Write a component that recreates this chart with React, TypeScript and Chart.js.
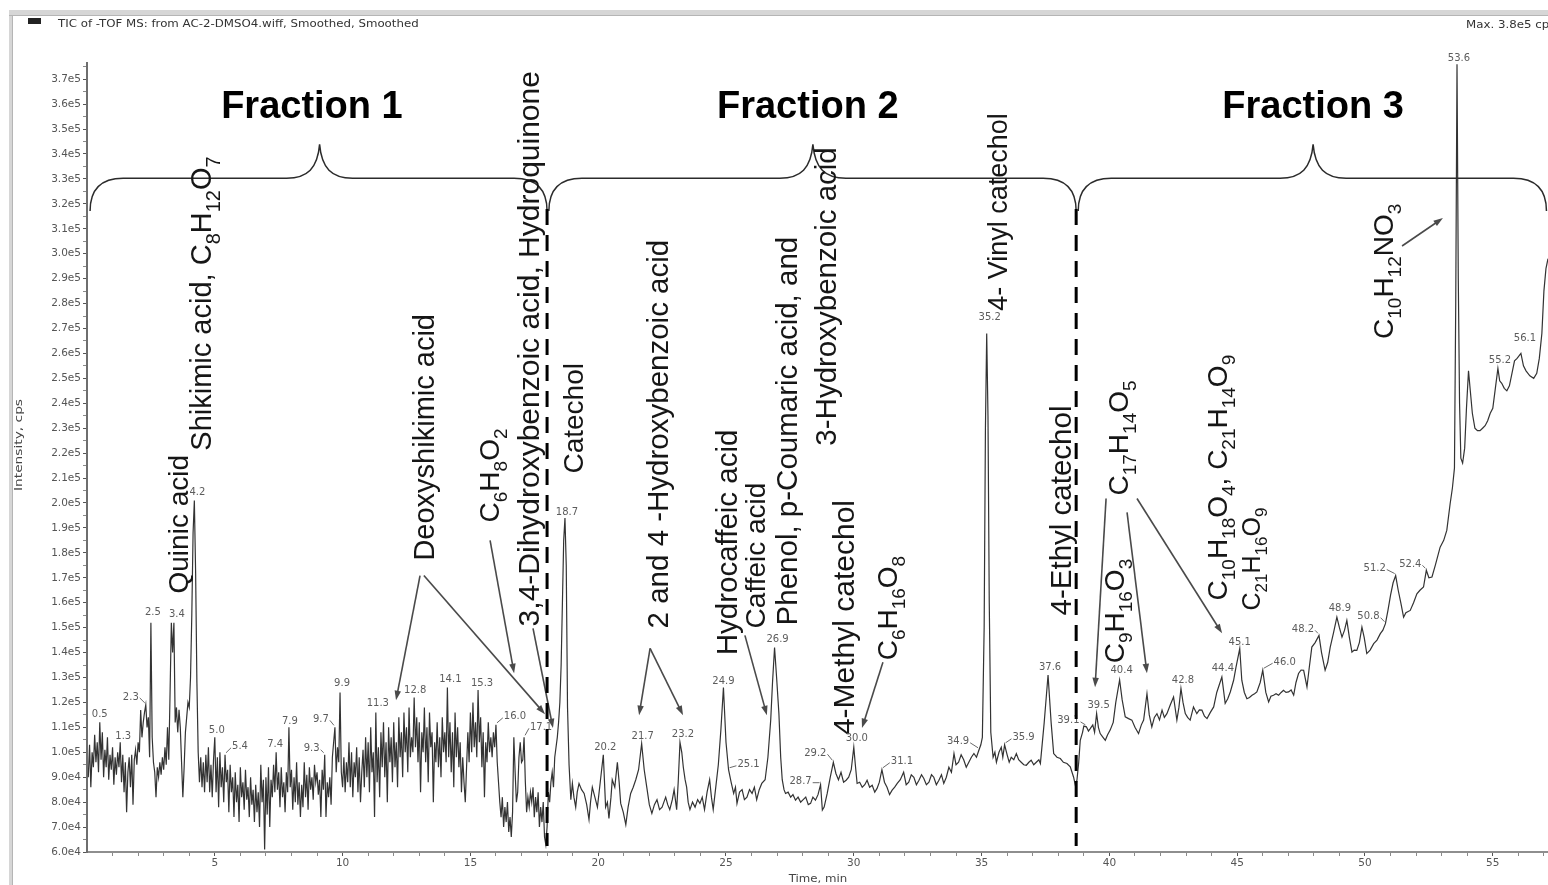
import React, { useEffect, useRef } from 'react';
import { Chart, registerables } from 'chart.js';

Chart.register(...registerables);

// ---------------------------------------------------------------------------
// TIC trace. Time in min, intensity in kcps.
// ---------------------------------------------------------------------------

// dense early part of the run, sampled every 0.05 min from 0.05 to 18.70 min
const EARLY_START_MIN = 0.05;
const EARLY_STEP_MIN = 0.05;
const earlyIntensity = [
  90, 103, 86, 100, 94, 107, 96, 104, 92, 112, 97, 108, 90, 101, 94, 106, 89, 99, 93, 102,
  87, 98, 91, 100, 94, 104, 88, 99, 84, 96, 76, 92, 98, 86, 99, 79, 97, 101, 95, 104,
  100, 117, 106, 112, 116, 119, 110, 114, 98, 152, 106, 96, 92, 82, 94, 90, 96, 91, 98, 93,
  102, 95, 110, 97, 124, 152, 140, 152, 112, 118, 108, 117, 110, 96, 82, 94, 108, 114, 120, 118,
  130, 155, 188, 201, 172, 128, 100, 88, 98, 86, 96, 84, 99, 88, 102, 84, 95, 82, 97, 106,
  84, 98, 78, 100, 86, 94, 80, 99, 88, 93, 76, 95, 84, 90, 74, 92, 80, 87, 72, 94,
  82, 88, 77, 93, 81, 86, 74, 90, 79, 85, 72, 87, 76, 84, 70, 95, 80, 89, 61, 90,
  75, 94, 70, 89, 82, 95, 84, 100, 85, 92, 78, 94, 82, 88, 76, 92, 84, 110, 86, 93,
  77, 90, 80, 96, 79, 88, 74, 87, 78, 96, 82, 91, 77, 94, 85, 90, 81, 95, 88, 92,
  83, 89, 74, 93, 85, 99, 74, 88, 82, 90, 79, 98, 104, 110, 92, 102, 96, 124, 92, 86,
  98, 84, 96, 88, 104, 86, 100, 82, 96, 90, 102, 84, 98, 80, 92, 101, 86, 106, 90, 104,
  84, 110, 92, 100, 74, 116, 88, 102, 82, 108, 94, 112, 90, 104, 80, 110, 96, 106, 88, 112,
  94, 104, 86, 114, 98, 108, 90, 116, 100, 110, 92, 118, 98, 106, 100, 122, 102, 114, 96, 112,
  84, 108, 100, 118, 96, 110, 88, 116, 102, 108, 80, 104, 96, 112, 94, 106, 90, 114, 100, 108,
  96, 126, 98, 112, 92, 108, 86, 116, 98, 110, 94, 104, 84, 98, 88, 80, 94, 108, 96, 116,
  100, 120, 102, 112, 98, 125, 104, 114, 94, 108, 82, 104, 96, 112, 100, 106, 98, 108, 102, 111,
  96, 88, 80, 74, 82, 70, 78, 72, 80, 68, 74, 66, 76, 106, 92, 80, 84, 98, 104, 96,
  97, 106, 88, 76, 82, 78, 84, 80, 86, 74, 82, 76, 84, 70, 78, 72, 80, 66, 63, 70,
  84, 80, 88, 92, 86, 98, 102, 106, 112, 120, 135, 160, 185, 194,
];

// middle part of the run [time, kcps]
const middleTrace: [number, number][] = [
  [18.75, 175], [18.8, 118], [18.86, 95], [18.93, 81], [18.99, 87.5], [19.05, 82], [19.12, 78],
  [19.18, 84], [19.25, 87.5], [19.35, 85], [19.45, 83.5], [19.55, 79], [19.64, 73], [19.7, 80],
  [19.77, 86], [19.87, 82], [19.97, 78], [20.08, 88], [20.2, 99], [20.29, 78], [20.36, 80],
  [20.42, 73.5], [20.5, 82], [20.55, 89], [20.65, 86], [20.75, 96], [20.82, 88], [20.88, 79.5],
  [20.98, 76], [21.08, 71], [21.17, 78], [21.27, 83.5], [21.37, 86], [21.47, 89], [21.58, 93],
  [21.7, 103.5], [21.8, 93], [21.9, 86], [22.0, 79], [22.1, 75.5], [22.2, 79], [22.3, 81],
  [22.4, 77], [22.5, 78], [22.57, 80], [22.64, 82], [22.72, 79], [22.8, 77], [22.9, 81],
  [22.97, 85], [23.07, 77], [23.13, 88], [23.2, 104], [23.27, 100], [23.33, 94], [23.4, 89],
  [23.46, 86], [23.52, 80], [23.59, 77], [23.69, 80], [23.79, 78], [23.89, 81], [23.98, 79.5],
  [24.07, 82], [24.16, 77], [24.26, 84], [24.36, 89], [24.43, 82], [24.5, 77], [24.6, 86],
  [24.7, 95], [24.8, 109], [24.9, 126], [25.0, 104], [25.1, 93], [25.2, 88], [25.3, 83.5],
  [25.37, 86], [25.43, 79.5], [25.53, 84], [25.63, 85], [25.72, 81], [25.82, 82], [25.92, 85],
  [26.02, 83.5], [26.11, 86], [26.2, 81], [26.3, 85], [26.4, 87.5], [26.53, 89], [26.64, 98],
  [26.75, 113], [26.82, 128], [26.9, 142], [26.98, 130], [27.07, 115.5], [27.14, 98], [27.2, 89],
  [27.27, 85], [27.33, 83.5], [27.43, 84], [27.53, 82], [27.62, 83], [27.72, 80.8], [27.82, 82],
  [27.92, 80], [28.02, 81], [28.12, 82], [28.22, 79], [28.31, 79.5], [28.4, 82], [28.5, 80.8],
  [28.6, 83], [28.7, 87], [28.77, 76.8], [28.84, 78], [28.96, 83.5], [29.08, 90], [29.2, 96],
  [29.3, 91.5], [29.4, 89], [29.5, 92], [29.6, 88], [29.7, 88.8], [29.8, 90], [29.9, 93],
  [30.0, 102], [30.06, 95], [30.13, 87.5], [30.23, 88], [30.33, 86], [30.43, 87], [30.52, 88.8],
  [30.62, 86], [30.72, 86.8], [30.82, 84], [30.91, 85.5], [31.0, 88], [31.1, 93], [31.2, 88],
  [31.3, 86], [31.4, 83], [31.5, 84.8], [31.6, 86], [31.7, 87.5], [31.82, 89], [31.95, 92],
  [32.05, 87], [32.15, 88], [32.25, 91], [32.35, 90], [32.45, 87], [32.55, 88.8], [32.65, 91],
  [32.74, 89.5], [32.84, 87], [32.94, 88], [33.04, 91], [33.13, 90], [33.23, 87], [33.33, 88.8],
  [33.43, 91], [33.52, 87.5], [33.62, 90], [33.72, 94], [33.82, 92], [33.92, 99.5], [34.0, 95],
  [34.1, 96], [34.2, 99], [34.3, 97], [34.4, 94], [34.5, 96], [34.6, 98], [34.7, 99.5],
  [34.8, 98], [34.9, 101], [34.97, 103], [35.03, 106], [35.1, 150], [35.15, 230], [35.2, 268],
  [35.25, 235], [35.3, 160], [35.36, 108], [35.45, 98], [35.52, 100], [35.58, 96], [35.68, 100],
  [35.77, 102], [35.83, 98], [35.9, 103], [36.0, 99], [36.08, 96], [36.16, 98], [36.26, 97],
  [36.36, 99.5], [36.45, 97], [36.55, 96], [36.65, 95], [36.75, 94.8], [36.85, 96], [36.94, 96.8],
  [37.04, 95], [37.14, 96], [37.24, 97],
];

// late part of the run [time, kcps]
const lateTrace: [number, number][] = [
  [37.3, 95.5], [37.45, 112], [37.6, 131], [37.72, 112], [37.82, 99.5], [37.95, 98], [38.08, 97.5],
  [38.2, 96], [38.34, 95.5], [38.47, 94.2], [38.6, 90], [38.68, 86.2], [38.73, 88.8], [38.8, 96],
  [38.86, 104.8], [38.95, 108], [39.0, 110.5], [39.1, 110.2], [39.18, 108.5], [39.25, 109.5],
  [39.35, 111], [39.42, 108], [39.5, 115.5], [39.57, 110], [39.64, 107.5], [39.75, 106],
  [39.84, 104.8], [39.93, 107], [40.03, 108.9], [40.15, 112], [40.25, 120], [40.4, 129],
  [40.5, 121], [40.62, 114.2], [40.75, 113.5], [40.88, 112.9], [41.0, 110], [41.14, 107.5],
  [41.25, 111], [41.34, 112.9], [41.47, 123.5], [41.56, 115], [41.66, 110.2], [41.76, 114],
  [41.86, 115.5], [41.96, 113], [42.06, 116.9], [42.15, 114], [42.25, 115.5], [42.38, 119],
  [42.51, 122.2], [42.64, 112.9], [42.72, 118], [42.8, 125.6], [42.88, 120], [42.97, 115.5],
  [43.06, 114], [43.16, 112.9], [43.29, 118.2], [43.42, 115.5], [43.52, 117], [43.62, 116.9],
  [43.72, 114.5], [43.82, 113.5], [43.95, 116], [44.08, 118.2], [44.2, 124], [44.4, 130.2],
  [44.53, 119.6], [44.63, 121.5], [44.73, 124.2], [44.86, 128.9], [44.95, 134], [45.1, 141.6],
  [45.18, 128.9], [45.28, 124], [45.38, 121.5], [45.48, 122], [45.58, 122.9], [45.68, 123.5],
  [45.77, 124.2], [45.9, 128], [46.0, 132.9], [46.12, 124], [46.23, 120.2], [46.32, 122.5],
  [46.42, 122.9], [46.52, 123.5], [46.62, 122.9], [46.72, 124], [46.81, 124.9], [46.91, 124],
  [47.01, 124.2], [47.11, 125], [47.21, 122.9], [47.3, 128], [47.4, 131.6], [47.5, 133],
  [47.6, 132.9], [47.73, 126.2], [47.82, 134], [47.92, 142.2], [48.05, 144], [48.2, 146.9],
  [48.3, 140], [48.44, 132.9], [48.54, 136], [48.64, 142.2], [48.77, 148], [48.9, 154.2],
  [49.0, 150], [49.1, 146.2], [49.2, 149], [49.29, 152.9], [49.39, 146], [49.49, 140.2],
  [49.58, 141], [49.68, 140.9], [49.78, 144], [49.88, 150.2], [49.97, 146], [50.07, 139.6],
  [50.2, 141], [50.34, 143.6], [50.47, 145], [50.6, 147.6], [50.7, 149], [50.8, 151.6],
  [50.9, 157], [51.0, 163], [51.1, 168], [51.2, 170.9], [51.3, 165], [51.4, 160], [51.51, 154.2],
  [51.6, 156], [51.77, 156.9], [51.9, 160], [52.03, 163.6], [52.15, 165], [52.29, 166.3],
  [52.4, 173], [52.5, 170], [52.62, 170.3], [52.75, 175], [52.94, 182.3], [53.08, 185],
  [53.2, 189], [53.33, 199.6], [53.42, 206], [53.5, 214], [53.55, 280], [53.6, 376],
  [53.65, 290], [53.7, 240], [53.75, 218], [53.82, 216], [53.9, 222], [53.97, 238], [54.05, 253],
  [54.12, 245], [54.2, 236], [54.3, 230], [54.4, 229], [54.5, 229], [54.6, 230], [54.7, 231],
  [54.8, 233], [54.9, 236], [55.0, 238], [55.1, 246], [55.2, 254], [55.27, 249], [55.35, 248],
  [55.45, 246], [55.55, 245], [55.65, 247], [55.75, 252], [55.85, 257], [55.95, 258],
  [56.1, 260], [56.2, 255], [56.3, 253], [56.45, 251], [56.6, 250], [56.72, 252], [56.82, 258],
  [56.92, 268], [57.0, 285], [57.08, 294], [57.16, 298],
];

// retention times printed above the apexes
const peakTimes = [
  0.5, 1.3, 2.3, 2.5, 3.4, 4.2, 5.0, 5.4, 7.4, 7.9, 9.3, 9.7, 9.9, 11.3, 12.8, 14.1, 15.3, 16.0,
  17.1, 18.7, 20.2, 21.7, 23.2, 24.9, 25.1, 26.9, 28.7, 29.2, 30.0, 31.1, 34.9, 35.2, 35.9, 37.6,
  39.1, 39.5, 40.4, 42.8, 44.4, 45.1, 46.0, 48.2, 48.9, 50.8, 51.2, 52.4, 53.6, 55.2, 56.1,
];

// axis ticks
const timeTickStep = 1;            // min, minor ticks; labelled every 5 min
const intensityTickStart = 60000;  // cps
const intensityTickEnd = 375000;
const intensityTickStep = 5000;    // minor ticks; labelled every 1e4 cps

// fraction brackets (min)
const fractionNames = ['Fraction 1', 'Fraction 2', 'Fraction 3'];
const fractionStarts = [0.12, 18.07, 38.78];
const fractionMids = [9.1, 28.4, 47.97];
const fractionEnds = [18.0, 38.7, 57.1];
const fractionTitleTimes = [8.8, 28.2, 47.97];
const fractionCuts = [18.0, 38.7];

// compound assignments: text, anchor time (min), anchor intensity (kcps), font px
const compoundNames = [
  'Quinic acid',
  'Shikimic acid, C_{8}H_{12}O_{7}',
  'Deoxyshikimic acid',
  'C_{6}H_{8}O_{2}',
  '3,4-Dihydroxybenzoic acid, Hydroquinone',
  'Catechol',
  '2 and 4 -Hydroxybenzoic acid',
  'Hydrocaffeic acid',
  'Caffeic acid',
  'Phenol, p-Coumaric acid, and',
  '3-Hydroxybenzoic acid',
  '4-Methyl catechol',
  'C_{6}H_{16}O_{8}',
  '4- Vinyl catechol',
  '4-Ethyl catechol',
  'C_{17}H_{14}O_{5}',
  'C_{9}H_{16}O_{3}',
  'C_{10}H_{18}O_{4}, C_{21}H_{14}O_{9}',
  'C_{21}H_{16}O_{9}',
  'C_{10}H_{12}NO_{3}',
];
const compoundTimes = [
  3.56, 4.46, 13.15, 15.73, 17.25, 19.01, 22.3, 25.0, 26.13, 27.35,
  28.87, 29.58, 31.3, 35.6, 38.07, 40.34, 40.18, 44.21, 45.54, 50.7,
];
const compoundIntensities = [
  163.7, 221.0, 176.9, 192.2, 150.5, 211.8, 149.7, 138.9, 149.7, 150.9,
  223.0, 106.9, 136.9, 277.1, 154.9, 203.0, 135.7, 160.9, 156.9, 265.8,
];
const compoundFontSizes = [
  28, 29, 29, 28, 30, 28, 29.5, 29.5, 28, 29.5,
  29.5, 30, 28, 27, 29.5, 28, 28, 28, 25, 28,
];

// pointer arrows: [from time, from kcps, to time, to kcps]
const pointerArrows: [number, number, number, number][] = [
  [13.03, 170.9, 12.09, 120.9],
  [13.18, 170.9, 17.92, 115.3],
  [15.77, 185.0, 16.71, 131.7],
  [17.45, 149.7, 18.23, 109.7],
  [22.03, 141.7, 21.6, 114.9],
  [22.03, 141.7, 23.32, 114.9],
  [25.74, 146.9, 26.6, 114.9],
  [31.14, 136.1, 30.32, 109.7],
  [39.87, 201.8, 39.44, 126.1],
  [40.69, 196.2, 41.47, 131.7],
  [41.08, 201.8, 44.41, 147.7],
  [51.45, 303.1, 53.05, 314.3],
];

// ---------------------------------------------------------------------------
// styling / layout
// ---------------------------------------------------------------------------
const KCPS = 1000;
const SMALL_FONT = "'DejaVu Sans', sans-serif";
const LABEL_FONT = "'Liberation Sans', Arial, sans-serif";

// where each retention-time label sits relative to its apex: [dx, dy, leader]
const peakLabelPlacement: Record<string, [number, number, boolean]> = {
  '0.5': [0, -8, false], '1.3': [3, -6, false], '2.3': [-15, -8, true], '2.5': [2, -10, false],
  '3.4': [3, -8, false], '4.2': [3, -8, false], '5.0': [2, -7, false], '5.4': [15, -8, true],
  '7.4': [-1, -8, false], '7.9': [1, -6, false], '9.3': [-13, -6, true], '9.7': [-14, -8, true],
  '9.9': [2, -9, false], '11.3': [2, -9, false], '12.8': [1, -7, false], '14.1': [3, -8, false],
  '15.3': [4, -7, false], '16.0': [19, -8, true], '17.1': [17, -10, true], '18.7': [2, -6, false],
  '20.2': [2, -7, false], '21.7': [1, -7, false], '23.2': [3, -8, false], '24.9': [0, -6, false],
  '25.1': [20, -5, true], '26.9': [3, -8, false], '28.7': [-20, -3, true], '29.2': [-18, -9, true],
  '30.0': [3, -9, false], '31.1': [20, -8, true], '34.9': [-21, -8, true], '35.2': [3, -16, false],
  '35.9': [19, -7, true], '37.6': [2, -8, false], '39.1': [-18, -6, true], '39.5': [2, -8, false],
  '40.4': [2, -10, false], '42.8': [2, -8, false], '44.4': [1, -9, false], '45.1': [0, -6, false],
  '46.0': [22, -8, true], '48.2': [-16, -6, true], '48.9': [3, -9, false], '50.8': [-17, -7, true],
  '51.2': [-21, -7, true], '52.4': [-16, -6, true], '53.6': [2, -6, false], '55.2': [2, -8, false],
  '56.1': [4, -15, false],
};

function tracePoints() {
  const pts: { x: number; y: number }[] = [];
  earlyIntensity.forEach((v, i) => {
    const t = Math.round((EARLY_START_MIN + i * EARLY_STEP_MIN) * 100) / 100;
    pts.push({ x: t, y: v * KCPS });
  });
  middleTrace.forEach(([t, v]) => pts.push({ x: t, y: v * KCPS }));
  lateTrace.forEach(([t, v]) => pts.push({ x: t, y: v * KCPS }));
  return pts;
}

function sciLabel(v: number) {
  const exp = Math.floor(Math.log10(v) + 1e-9);
  return (v / Math.pow(10, exp)).toFixed(1) + 'e' + exp;
}

function parseFormula(raw: string) {
  const parts: { text: string; sub: boolean }[] = [];
  const re = /_\{([^}]*)\}/g;
  let last = 0;
  let m: RegExpExecArray | null;
  while ((m = re.exec(raw))) {
    if (m.index > last) parts.push({ text: raw.slice(last, m.index), sub: false });
    parts.push({ text: m[1], sub: true });
    last = m.index + m[0].length;
  }
  if (last < raw.length) parts.push({ text: raw.slice(last), sub: false });
  return parts;
}

// vertical label reading bottom-to-top; (x, y) = column centre, start of text
function drawVerticalLabel(ctx: CanvasRenderingContext2D, raw: string, x: number, y: number, size: number) {
  const subSize = Math.round(size * 0.68);
  ctx.save();
  ctx.translate(x, y);
  ctx.rotate(-Math.PI / 2);
  ctx.textAlign = 'left';
  ctx.textBaseline = 'alphabetic';
  const base = size * 0.36;
  let cursor = 0;
  for (const p of parseFormula(raw)) {
    ctx.font = `${p.sub ? subSize : size}px ${LABEL_FONT}`;
    ctx.fillText(p.text, cursor, p.sub ? base + size * 0.29 : base);
    cursor += ctx.measureText(p.text).width;
  }
  ctx.restore();
}

function drawArrow(ctx: CanvasRenderingContext2D, x1: number, y1: number, x2: number, y2: number) {
  const ang = Math.atan2(y2 - y1, x2 - x1);
  const len = 10;
  const spread = 0.33;
  ctx.beginPath();
  ctx.moveTo(x1, y1);
  ctx.lineTo(x2 - Math.cos(ang) * len * 0.7, y2 - Math.sin(ang) * len * 0.7);
  ctx.stroke();
  ctx.beginPath();
  ctx.moveTo(x2, y2);
  ctx.lineTo(x2 - len * Math.cos(ang - spread), y2 - len * Math.sin(ang - spread));
  ctx.lineTo(x2 - len * Math.cos(ang + spread), y2 - len * Math.sin(ang + spread));
  ctx.closePath();
  ctx.fill();
}

function drawBrace(ctx: CanvasRenderingContext2D, xl: number, xm: number, xr: number, yLine: number, yTip: number, yEnd: number) {
  const r = 33;
  ctx.beginPath();
  ctx.moveTo(xl, yEnd);
  ctx.bezierCurveTo(xl, yLine + 12, xl + 10, yLine, xl + r, yLine);
  ctx.lineTo(xm - r, yLine);
  ctx.bezierCurveTo(xm - 12, yLine, xm - 2, yLine - 10, xm, yTip);
  ctx.bezierCurveTo(xm + 2, yLine - 10, xm + 12, yLine, xm + r, yLine);
  ctx.lineTo(xr - r, yLine);
  ctx.bezierCurveTo(xr - 10, yLine, xr, yLine + 12, xr, yEnd);
  ctx.stroke();
}

function stretchedText(ctx: CanvasRenderingContext2D, text: string, x: number, y: number, sx: number, align: CanvasTextAlign) {
  ctx.save();
  ctx.translate(x, y);
  ctx.scale(sx, 1);
  ctx.textAlign = align;
  ctx.fillText(text, 0, 0);
  ctx.restore();
}

const windowFrame = {
  id: 'windowFrame',
  beforeDraw(chart: Chart) {
    const ctx = chart.ctx;
    ctx.save();
    ctx.fillStyle = '#ffffff';
    ctx.fillRect(0, 0, chart.width, chart.height);
    ctx.fillStyle = '#d6d6d6';
    ctx.fillRect(9, 10, chart.width - 9, 6);
    ctx.fillRect(9, 10, 4, chart.height - 10);
    ctx.fillStyle = '#b5b5b5';
    ctx.fillRect(9, 15, chart.width - 9, 1);
    ctx.fillRect(12, 15, 1, chart.height - 15);
    // trace legend swatch and header
    ctx.fillStyle = '#222';
    ctx.fillRect(28, 18, 13, 6);
    ctx.fillStyle = '#333';
    ctx.font = `10px ${SMALL_FONT}`;
    ctx.textBaseline = 'alphabetic';
    stretchedText(ctx, 'TIC of -TOF MS: from AC-2-DMSO4.wiff, Smoothed, Smoothed', 58, 27, 1.18, 'left');
    stretchedText(ctx, 'Max. 3.8e5 cps', 1466, 28, 1.18, 'left');
    // axis titles
    ctx.fillStyle = '#444';
    stretchedText(ctx, 'Time, min', 818, 882, 1.18, 'center');
    ctx.save();
    ctx.translate(22, 445);
    ctx.rotate(-Math.PI / 2);
    ctx.scale(1.25, 1);
    ctx.font = `11px ${SMALL_FONT}`;
    ctx.textAlign = 'center';
    ctx.fillText('Intensity, cps', 0, 0);
    ctx.restore();
    ctx.restore();
  },
  afterDatasetsDraw(chart: Chart) {
    const ctx = chart.ctx;
    const xs = chart.scales.x;
    const ys = chart.scales.y;
    const px = (t: number) => xs.getPixelForValue(t);
    const py = (k: number) => ys.getPixelForValue(k * KCPS);
    ctx.save();

    // fraction brackets and titles
    ctx.strokeStyle = '#2b2b2b';
    ctx.lineWidth = 1.5;
    for (let i = 0; i < fractionNames.length; i++) {
      drawBrace(ctx, px(fractionStarts[i]), px(fractionMids[i]), px(fractionEnds[i]), py(330.3), py(343.9), py(317.1));
    }
    ctx.fillStyle = '#000';
    ctx.font = `bold 38px ${LABEL_FONT}`;
    ctx.textAlign = 'center';
    ctx.textBaseline = 'alphabetic';
    for (let i = 0; i < fractionNames.length; i++) {
      ctx.fillText(fractionNames[i], px(fractionTitleTimes[i]), py(354.5));
    }

    // compound assignments
    ctx.fillStyle = '#161616';
    compoundNames.forEach((name, i) => {
      drawVerticalLabel(ctx, name, px(compoundTimes[i]), py(compoundIntensities[i]), compoundFontSizes[i]);
    });

    ctx.strokeStyle = '#4a4a4a';
    ctx.fillStyle = '#4a4a4a';
    ctx.lineWidth = 1.6;
    pointerArrows.forEach(([t1, v1, t2, v2]) => drawArrow(ctx, px(t1), py(v1), px(t2), py(v2)));

    // retention-time labels
    const pts = chart.data.datasets[0].data as { x: number; y: number }[];
    const byTime = new Map<string, number>();
    pts.forEach((p) => byTime.set(p.x.toFixed(2), p.y));
    ctx.font = `10px ${SMALL_FONT}`;
    ctx.textAlign = 'center';
    ctx.textBaseline = 'middle';
    ctx.fillStyle = '#5c5c5c';
    ctx.strokeStyle = '#6a6a6a';
    ctx.lineWidth = 1;
    peakTimes.forEach((t) => {
      const y = byTime.get(t.toFixed(2));
      if (y === undefined) return;
      const key = t.toFixed(1);
      const [dx, dy, leader] = peakLabelPlacement[key] || [2, -8, false];
      const x0 = xs.getPixelForValue(t);
      const y0 = ys.getPixelForValue(y);
      const lx = x0 + dx;
      const ly = y0 + dy;
      ctx.fillText(key, lx, ly);
      if (leader) {
        const w = ctx.measureText(key).width;
        const sx = dx < 0 ? lx + w / 2 + 1 : lx - w / 2 - 1;
        ctx.beginPath();
        ctx.moveTo(sx, ly + 1);
        ctx.lineTo(x0 + (dx < 0 ? -1 : 1), y0 - 2);
        ctx.stroke();
      }
    });

    // fraction cut lines
    ctx.strokeStyle = '#000';
    ctx.lineWidth = 3;
    ctx.setLineDash([16, 10]);
    fractionCuts.forEach((t) => {
      ctx.beginPath();
      ctx.moveTo(px(t), py(317.9));
      ctx.lineTo(px(t), py(62.4));
      ctx.stroke();
    });
    ctx.setLineDash([]);
    ctx.restore();
  },
};

export default function App() {
  const canvasRef = useRef<HTMLCanvasElement | null>(null);

  useEffect(() => {
    if (!canvasRef.current) return;
    const chart = new Chart(canvasRef.current, {
      type: 'line',
      data: {
        datasets: [
          {
            label: 'TIC',
            data: tracePoints(),
            borderColor: '#333333',
            borderWidth: 1.2,
            pointRadius: 0,
            tension: 0,
            fill: false,
          },
        ],
      },
      options: {
        animation: false,
        responsive: true,
        maintainAspectRatio: false,
        devicePixelRatio: 1,
        events: [],
        layout: { padding: { top: 63, left: 0, right: 0, bottom: 0 } },
        plugins: { legend: { display: false }, title: { display: false }, tooltip: { enabled: false } },
        scales: {
          x: {
            type: 'linear',
            min: 0,
            max: 57.16,
            afterFit: (s: any) => { s.height = 33; },
            afterBuildTicks: (s: any) => {
              const ticks = [];
              for (let t = timeTickStep; t <= 57; t += timeTickStep) ticks.push({ value: t });
              s.ticks = ticks;
            },
            border: { display: true, color: '#8e8e8e', width: 2 },
            grid: {
              drawOnChartArea: false,
              drawTicks: true,
              tickLength: 4,
              tickColor: (c: any) => (c.tick && c.tick.value % 5 === 0 ? '#555' : '#8a8a8a'),
            },
            ticks: {
              autoSkip: false,
              maxRotation: 0,
              padding: 1,
              color: '#555',
              font: { family: 'DejaVu Sans', size: 10.5 },
              callback: (v: any) => (v % 5 === 0 && v !== 0 ? String(v) : ''),
            },
          },
          y: {
            type: 'linear',
            min: 60000,
            max: 376500,
            afterFit: (s: any) => { s.width = 87; },
            afterBuildTicks: (s: any) => {
              const ticks = [];
              for (let v = intensityTickStart; v <= intensityTickEnd; v += intensityTickStep) ticks.push({ value: v });
              s.ticks = ticks;
            },
            border: { display: true, color: '#6e6e6e', width: 2 },
            grid: {
              drawOnChartArea: false,
              drawTicks: true,
              tickLength: 4,
              tickColor: (c: any) => (c.tick && Math.round(c.tick.value) % 10000 === 0 ? '#555' : '#8a8a8a'),
            },
            ticks: {
              autoSkip: false,
              padding: 2,
              color: '#555',
              font: { family: 'DejaVu Sans', size: 10.5 },
              callback: (v: any) => (Math.round(v) % 10000 === 0 ? sciLabel(v) : ''),
            },
          },
        },
      },
      plugins: [windowFrame],
    });
    return () => chart.destroy();
  }, []);

  return (
    <div style={{ position: 'fixed', left: 0, top: 0, width: 1548, height: 885, background: '#fff' }}>
      <canvas ref={canvasRef} />
    </div>
  );
}
